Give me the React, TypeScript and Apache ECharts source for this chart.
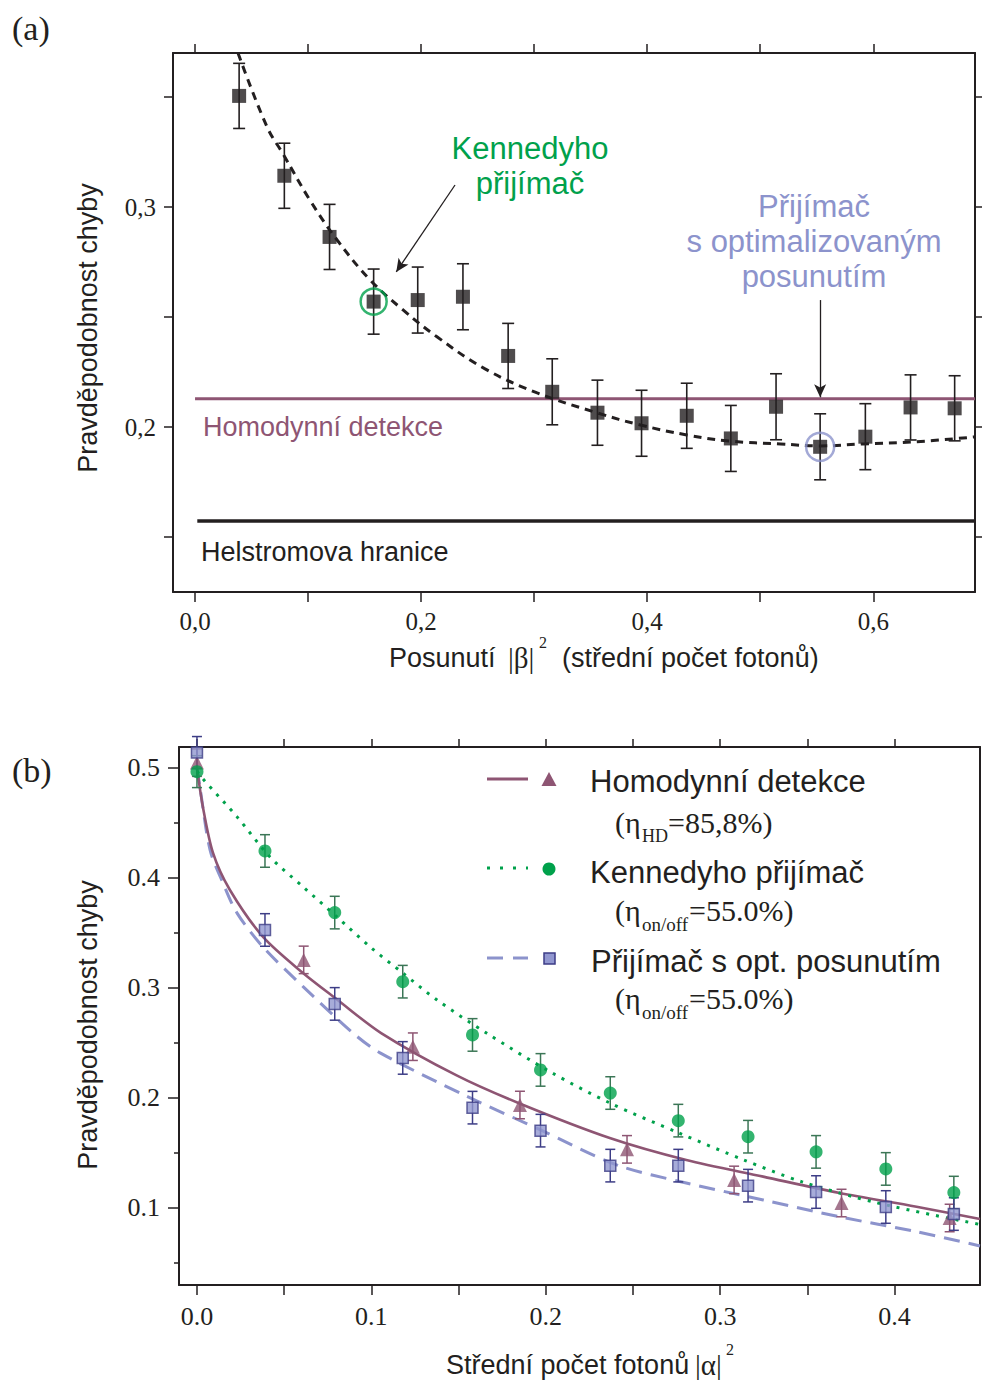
import React, { useEffect, useRef } from "react";
import * as echarts from "echarts";

// ---------- Panel (a) ----------
const shiftX = [0.039, 0.079, 0.119, 0.158, 0.197, 0.237, 0.277, 0.316, 0.356, 0.395, 0.435, 0.474, 0.514, 0.553, 0.593, 0.633, 0.672];
const shiftErrProb = [0.3505, 0.3142, 0.2864, 0.257, 0.2577, 0.2592, 0.2323, 0.216, 0.2065, 0.2017, 0.2051, 0.1948, 0.2092, 0.191, 0.1956, 0.2089, 0.2085];
const shiftSigma = [0.0148, 0.0148, 0.0148, 0.0148, 0.015, 0.015, 0.0148, 0.015, 0.0148, 0.015, 0.0148, 0.015, 0.015, 0.015, 0.015, 0.0148, 0.0148];
const fitCurveX = [0.038, 0.0637, 0.078, 0.1018, 0.1257, 0.155, 0.184, 0.214, 0.2566, 0.3027, 0.356, 0.394, 0.435, 0.473, 0.518, 0.553, 0.591, 0.635, 0.69];
const fitCurveY = [0.37, 0.3364, 0.324, 0.303, 0.285, 0.2668, 0.2532, 0.241, 0.2264, 0.2155, 0.2064, 0.2009, 0.1964, 0.1936, 0.1923, 0.1914, 0.1923, 0.1932, 0.1955];
const homodyneLevelA = 0.2128;
const helstromLevelA = 0.1573;
const kennedyIdxA = 3;
const optimalIdxA = 13;
const arrowKennedy = [[0.23, 0.31], [0.178, 0.2705]];
const arrowOptimal = [[0.553, 0.2577], [0.553, 0.2135]];
const ticksXA = [0, 0.1, 0.2, 0.3, 0.4, 0.5, 0.6];
const labelsXA = [0, 0.2, 0.4, 0.6];
const ticksYA = [0.15, 0.2, 0.25, 0.3, 0.35];
const labelsYA = [0.2, 0.3];

// ---------- Panel (b) ----------
const kenX = [0, 0.039, 0.079, 0.118, 0.158, 0.197, 0.237, 0.276, 0.316, 0.355, 0.395, 0.434];
const kenY = [0.4966, 0.4245, 0.3685, 0.3057, 0.2573, 0.2255, 0.2045, 0.1794, 0.1648, 0.151, 0.1355, 0.114];
const kenErr = [0.0145, 0.0148, 0.0148, 0.0148, 0.0148, 0.0148, 0.0148, 0.0148, 0.0148, 0.0148, 0.0148, 0.0148];
const optX = [0, 0.039, 0.079, 0.118, 0.158, 0.197, 0.237, 0.276, 0.316, 0.355, 0.395, 0.434];
const optY = [0.514, 0.3527, 0.2855, 0.2364, 0.1912, 0.1703, 0.1385, 0.1385, 0.1203, 0.1145, 0.1009, 0.0945];
const optErr = [0.0145, 0.0148, 0.0148, 0.0148, 0.0148, 0.0148, 0.0148, 0.0148, 0.0148, 0.0148, 0.0148, 0.0148];
const hdX = [0, 0.0612, 0.1238, 0.1852, 0.2466, 0.308, 0.3696, 0.4316];
const hdY = [0.5048, 0.3255, 0.2466, 0.1936, 0.1533, 0.1255, 0.1045, 0.0909];
const hdErr = [0.0125, 0.0125, 0.0125, 0.0125, 0.0125, 0.0125, 0.0125, 0.0125];
const hdCurveX = [0, 0.0034, 0.0092, 0.0189, 0.0379, 0.0608, 0.0803, 0.1056, 0.1489, 0.185, 0.2367, 0.2806, 0.3247, 0.3685, 0.4126, 0.449];
const hdCurveY = [0.5, 0.4645, 0.4227, 0.389, 0.3464, 0.3136, 0.2895, 0.259, 0.2205, 0.195, 0.1636, 0.1436, 0.1285, 0.1136, 0.1012, 0.09];
const optCurveX = [0, 0.0017, 0.0075, 0.0149, 0.023, 0.038, 0.061, 0.0895, 0.105, 0.1555, 0.197, 0.241, 0.2806, 0.3247, 0.3685, 0.4126, 0.449];
const optCurveY = [0.5, 0.4827, 0.4255, 0.3955, 0.368, 0.337, 0.301, 0.259, 0.241, 0.201, 0.171, 0.139, 0.1227, 0.1073, 0.092, 0.0785, 0.0655];
const kenCurveX = [0, 0.0034, 0.023, 0.0419, 0.0608, 0.0803, 0.0993, 0.118, 0.1377, 0.166, 0.2037, 0.2367, 0.2763, 0.3137, 0.3467, 0.3905, 0.449];
const kenCurveY = [0.497, 0.49, 0.4555, 0.419, 0.392, 0.3645, 0.3373, 0.3136, 0.289, 0.259, 0.2227, 0.1955, 0.1682, 0.1436, 0.1239, 0.1045, 0.085];
const ticksXB = [0, 0.05, 0.1, 0.15, 0.2, 0.25, 0.3, 0.35, 0.4];
const labelsXB = [0, 0.1, 0.2, 0.3, 0.4];
const ticksYB = [0.1, 0.2, 0.3, 0.4, 0.5];
const minorTicksYB = [0.05, 0.15, 0.25, 0.35, 0.45];

const SANS = '"Liberation Sans", Arial, Helvetica, sans-serif';
const SERIF = '"Liberation Serif", "Times New Roman", serif';
const INK = "#231f20";
const MAUVE = "#8e5573";
const GREEN = "#00a14b";
const GREEN_DARK = "#3b7656";
const LAV = "#8c93cc";
const LAV_FILL = "#9197d0";
const NAVY = "#3d3d86";

const zip = (xs: number[], ys: number[]) => xs.map((x, i) => [x, ys[i]]);

function errorBars(xs: number[], ys: number[], es: number[], color: string, xi: number, yi: number, cap: number, lw: number) {
  return {
    type: "custom",
    xAxisIndex: xi,
    yAxisIndex: yi,
    z: 3,
    silent: true,
    encode: { x: 0, y: 1 },
    data: xs.map((x, i) => [x, ys[i], es[i]]),
    renderItem: (_p: any, api: any) => {
      const x = api.value(0);
      const y = api.value(1);
      const e = api.value(2);
      const t = api.coord([x, y + e]);
      const b = api.coord([x, y - e]);
      const st = { stroke: color, lineWidth: lw };
      return {
        type: "group",
        children: [
          { type: "line", shape: { x1: t[0], y1: t[1], x2: b[0], y2: b[1] }, style: st },
          { type: "line", shape: { x1: t[0] - cap, y1: t[1], x2: t[0] + cap, y2: t[1] }, style: st },
          { type: "line", shape: { x1: b[0] - cap, y1: b[1], x2: b[0] + cap, y2: b[1] }, style: st },
        ],
      };
    },
  };
}

function txt(text: string, x: number, y: number, size: number, family: string, fill: string, align = "left", extra: any = {}) {
  return {
    type: "text",
    x,
    y,
    z: 100,
    ...extra,
    style: {
      text,
      fontSize: size,
      fontFamily: family,
      fill,
      textAlign: align,
      textVerticalAlign: "middle",
      align,
      verticalAlign: "middle",
    },
  };
}

const commaFmt = (v: number) => v.toFixed(1).replace(".", ",");
const dotFmt = (v: number) => v.toFixed(1);

function baseAxis(extra: any) {
  return {
    type: "value",
    splitLine: { show: false },
    axisLine: { show: true, onZero: false, lineStyle: { color: INK, width: 2 } },
    ...extra,
  };
}

export default function App() {
  const ref = useRef<HTMLDivElement>(null);

  useEffect(() => {
    document.body.style.margin = "0";
    if (!ref.current) return;
    const chart = echarts.init(ref.current, undefined, { renderer: "svg" });

    const tickLine = { lineStyle: { color: INK, width: 1.5 } };
    const labelStyleA = { fontFamily: SERIF, fontSize: 25, color: INK };
    const labelStyleB = { fontFamily: SERIF, fontSize: 26, color: INK };

    const option: any = {
      animation: false,
      backgroundColor: "#ffffff",
      grid: [
        { left: 173, top: 53, right: 7, bottom: 788 },
        { left: 179, top: 747, right: 2, bottom: 95 },
      ],
      xAxis: [
        baseAxis({
          gridIndex: 0, position: "bottom", min: -0.0195, max: 0.69,
          axisTick: { show: true, inside: false, length: 10, customValues: ticksXA, ...tickLine },
          axisLabel: { show: true, customValues: labelsXA, formatter: commaFmt, margin: 17, ...labelStyleA },
        }),
        baseAxis({
          gridIndex: 0, position: "top", min: -0.0195, max: 0.69,
          axisTick: { show: true, inside: false, length: 9, customValues: ticksXA, ...tickLine },
          axisLabel: { show: false },
        }),
        baseAxis({
          gridIndex: 1, position: "bottom", min: -0.0103, max: 0.449,
          axisTick: { show: true, inside: false, length: 10, customValues: ticksXB, ...tickLine },
          axisLabel: { show: true, customValues: labelsXB, formatter: dotFmt, margin: 18, ...labelStyleB },
        }),
        baseAxis({
          gridIndex: 1, position: "top", min: -0.0103, max: 0.449,
          axisTick: { show: true, inside: false, length: 8, customValues: ticksXB, ...tickLine },
          axisLabel: { show: false },
        }),
      ],
      yAxis: [
        baseAxis({
          gridIndex: 0, position: "left", min: 0.125, max: 0.37,
          axisTick: { show: true, inside: false, length: 9, customValues: ticksYA, ...tickLine },
          axisLabel: { show: true, customValues: labelsYA, formatter: commaFmt, margin: 17, ...labelStyleA },
        }),
        baseAxis({
          gridIndex: 0, position: "right", min: 0.125, max: 0.37,
          axisTick: { show: true, inside: false, length: 7, customValues: ticksYA, ...tickLine },
          axisLabel: { show: false },
        }),
        baseAxis({
          gridIndex: 1, position: "left", min: 0.03, max: 0.519,
          axisTick: { show: true, inside: false, length: 11, customValues: ticksYB, ...tickLine },
          axisLabel: { show: true, customValues: ticksYB, formatter: dotFmt, margin: 19, ...labelStyleB },
        }),
        baseAxis({
          gridIndex: 1, position: "left", min: 0.03, max: 0.519,
          axisLine: { show: false, onZero: false },
          axisTick: { show: true, inside: false, length: 5, customValues: minorTicksYB, ...tickLine },
          axisLabel: { show: false },
        }),
        baseAxis({
          gridIndex: 1, position: "right", min: 0.03, max: 0.519,
          axisTick: { show: false },
          axisLabel: { show: false },
        }),
      ],
      series: [
        // ----- panel (a) -----
        {
          type: "line", xAxisIndex: 0, yAxisIndex: 0, symbol: "none", z: 2,
          data: [[0.002, helstromLevelA], [0.69, helstromLevelA]],
          lineStyle: { color: INK, width: 3.5 },
        },
        {
          type: "line", xAxisIndex: 0, yAxisIndex: 0, symbol: "none", z: 2,
          data: [[0, homodyneLevelA], [0.69, homodyneLevelA]],
          lineStyle: { color: MAUVE, width: 3 },
          markLine: {
            silent: true,
            symbol: ["none", "arrow"],
            symbolSize: [9, 13],
            label: { show: false },
            lineStyle: { type: "solid", color: INK, width: 1.3 },
            data: [
              [{ coord: arrowKennedy[0] }, { coord: arrowKennedy[1] }],
              [{ coord: arrowOptimal[0] }, { coord: arrowOptimal[1] }],
            ],
          },
        },
        {
          type: "line", xAxisIndex: 0, yAxisIndex: 0, symbol: "none", smooth: 0.4, z: 2,
          data: zip(fitCurveX, fitCurveY),
          lineStyle: { color: INK, width: 3, type: [8, 6] },
        },
        errorBars(shiftX, shiftErrProb, shiftSigma, INK, 0, 0, 6, 1.6),
        {
          type: "scatter", xAxisIndex: 0, yAxisIndex: 0, symbol: "rect", symbolSize: 14, z: 4,
          data: zip(shiftX, shiftErrProb),
          itemStyle: { color: INK },
        },
        {
          type: "scatter", xAxisIndex: 0, yAxisIndex: 0, symbol: "circle", symbolSize: 26, z: 5,
          data: [[shiftX[kennedyIdxA], shiftErrProb[kennedyIdxA]]],
          itemStyle: { color: "rgba(0,0,0,0)", borderColor: GREEN, borderWidth: 2.5 },
        },
        {
          type: "scatter", xAxisIndex: 0, yAxisIndex: 0, symbol: "circle", symbolSize: 28, z: 5,
          data: [[shiftX[optimalIdxA], shiftErrProb[optimalIdxA]]],
          itemStyle: { color: "rgba(0,0,0,0)", borderColor: LAV, borderWidth: 2.5 },
        },
        // ----- panel (b) -----
        {
          type: "line", xAxisIndex: 2, yAxisIndex: 2, symbol: "none", smooth: 0.3, z: 2,
          data: zip(optCurveX, optCurveY),
          lineStyle: { color: LAV, width: 3, type: [16, 9] },
        },
        {
          type: "line", xAxisIndex: 2, yAxisIndex: 2, symbol: "none", smooth: 0.3, z: 2,
          data: zip(hdCurveX, hdCurveY),
          lineStyle: { color: MAUVE, width: 2.6 },
        },
        {
          type: "line", xAxisIndex: 2, yAxisIndex: 2, symbol: "none", smooth: 0.3, z: 2,
          data: zip(kenCurveX, kenCurveY),
          lineStyle: { color: GREEN, width: 3, type: [3, 7] },
        },
        errorBars(hdX, hdY, hdErr, MAUVE, 2, 2, 5, 1.5),
        errorBars(kenX, kenY, kenErr, GREEN_DARK, 2, 2, 5, 1.5),
        errorBars(optX, optY, optErr, NAVY, 2, 2, 5, 1.5),
        {
          type: "scatter", xAxisIndex: 2, yAxisIndex: 2, symbol: "triangle", symbolSize: 14, z: 4,
          data: zip(hdX, hdY),
          itemStyle: { color: MAUVE },
        },
        {
          type: "scatter", xAxisIndex: 2, yAxisIndex: 2, symbol: "circle", symbolSize: 13, z: 4,
          data: zip(kenX, kenY),
          itemStyle: { color: GREEN },
        },
        {
          type: "scatter", xAxisIndex: 2, yAxisIndex: 2, symbol: "rect", symbolSize: 11, z: 4,
          data: zip(optX, optY),
          itemStyle: { color: LAV_FILL, borderColor: NAVY, borderWidth: 1.5 },
        },
      ],
      graphic: [
        // panel labels
        txt("(a)", 12, 28, 34, SERIF, INK),
        txt("(b)", 12, 770, 34, SERIF, INK),
        // panel (a) texts
        txt("Pravděpodobnost chyby", 88, 328, 27, SANS, INK, "center", { rotation: Math.PI / 2 }),
        txt("Posunutí", 389, 658, 27, SANS, INK),
        txt("|β|", 508, 658, 29, SERIF, INK),
        txt("2", 539, 642, 16, SERIF, INK),
        txt("(střední počet fotonů)", 562, 658, 27, SANS, INK),
        txt("Kennedyho", 530, 148, 31, SANS, GREEN, "center"),
        txt("přijímač", 530, 183, 31, SANS, GREEN, "center"),
        txt("Přijímač", 814, 206, 31, SANS, LAV, "center"),
        txt("s optimalizovaným", 814, 241, 31, SANS, LAV, "center"),
        txt("posunutím", 814, 276, 31, SANS, LAV, "center"),
        txt("Homodynní detekce", 203, 427, 27, SANS, MAUVE),
        txt("Helstromova hranice", 201, 552, 27, SANS, INK),
        // panel (b) texts
        txt("Pravděpodobnost chyby", 88, 1025, 27, SANS, INK, "center", { rotation: Math.PI / 2 }),
        txt("Střední počet fotonů", 446, 1365, 27, SANS, INK),
        txt("|α|", 695, 1365, 29, SERIF, INK),
        txt("2", 726, 1349, 16, SERIF, INK),
        // legend
        { type: "line", z: 100, shape: { x1: 487, y1: 779, x2: 528, y2: 779 }, style: { stroke: MAUVE, lineWidth: 3 } },
        { type: "polygon", z: 100, shape: { points: [[549, 772], [541.5, 786], [556.5, 786]] }, style: { fill: MAUVE } },
        txt("Homodynní detekce", 590, 781, 31, SANS, INK),
        txt("(η", 615, 822, 30, SERIF, INK),
        txt("HD", 642, 836, 18, SERIF, INK),
        txt("=85,8%)", 668, 822, 30, SERIF, INK),

        { type: "line", z: 100, shape: { x1: 487, y1: 868, x2: 528, y2: 868 }, style: { stroke: GREEN, lineWidth: 3, lineDash: [3, 10] } },
        { type: "circle", z: 100, shape: { cx: 549, cy: 869, r: 6.5 }, style: { fill: GREEN } },
        txt("Kennedyho přijímač", 590, 872, 31, SANS, INK),
        txt("(η", 615, 910, 30, SERIF, INK),
        txt("on/off", 642, 924, 19, SERIF, INK),
        txt("=55.0%)", 689, 910, 30, SERIF, INK),

        { type: "line", z: 100, shape: { x1: 487, y1: 958, x2: 528, y2: 958 }, style: { stroke: LAV, lineWidth: 3, lineDash: [16, 10] } },
        { type: "rect", z: 100, shape: { x: 544, y: 953, width: 11, height: 11 }, style: { fill: LAV_FILL, stroke: NAVY, lineWidth: 1.5 } },
        txt("Přijímač s opt. posunutím", 591, 961, 31, SANS, INK),
        txt("(η", 615, 998, 30, SERIF, INK),
        txt("on/off", 642, 1012, 19, SERIF, INK),
        txt("=55.0%)", 689, 998, 30, SERIF, INK),
      ],
    };

    chart.setOption(option);
    return () => chart.dispose();
  }, []);

  return <div ref={ref} style={{ width: 982, height: 1380 }} />;
}
